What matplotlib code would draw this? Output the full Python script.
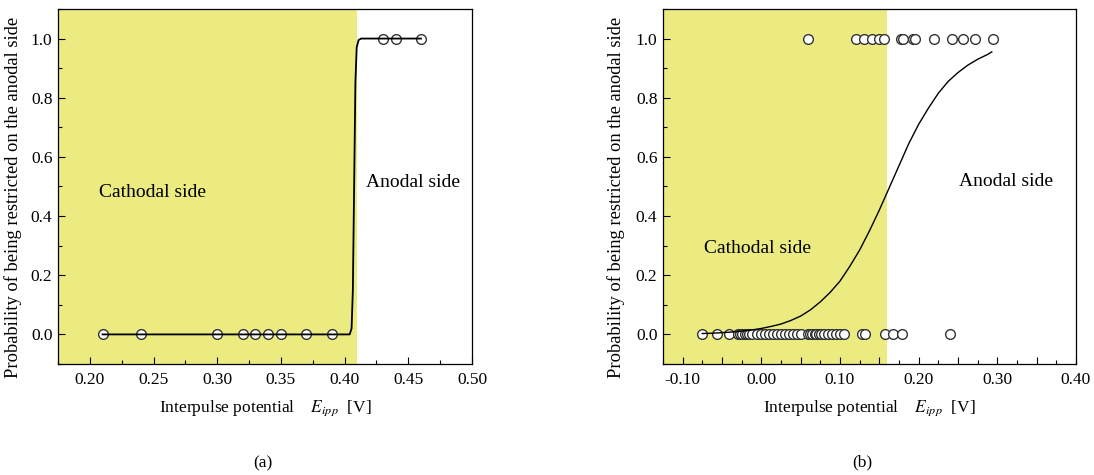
import numpy as np
import matplotlib
matplotlib.use('Agg')
import matplotlib.pyplot as plt
from matplotlib.ticker import MultipleLocator, FuncFormatter

plt.rcParams['font.family'] = ['Liberation Serif', 'DejaVu Serif']
plt.rcParams['mathtext.fontset'] = 'stix'

# ------------------------------------------------------------------
# data
# ------------------------------------------------------------------
# panel (a)
a_x0 = [0.21, 0.24, 0.30, 0.32, 0.33, 0.34, 0.35, 0.37, 0.39]
a_x1 = [0.43, 0.44, 0.46]
a_fit_x = [0.21, 0.30, 0.404, 0.4055, 0.4065, 0.4075, 0.4085, 0.4095, 0.411, 0.413, 0.46]
a_fit_y = [0.0, 0.0, 0.0, 0.02, 0.15, 0.50, 0.85, 0.97, 0.995, 1.0, 1.0]
a_boundary = 0.41

# panel (b)
b_x0 = [-0.075, -0.056, -0.041,
        -0.030, -0.027, -0.024, -0.021, -0.018, -0.015, -0.012,
        -0.005, 0.000, 0.005, 0.010, 0.015,
        0.020, 0.025, 0.030, 0.035, 0.040, 0.045, 0.050,
        0.060, 0.062, 0.065, 0.068, 0.070, 0.073, 0.076,
        0.080, 0.085, 0.090, 0.095, 0.100, 0.105,
        0.128, 0.132, 0.157, 0.168, 0.179, 0.240]
b_x1 = [0.059, 0.120, 0.131, 0.141, 0.150, 0.156, 0.177, 0.180,
        0.193, 0.196, 0.220, 0.242, 0.257, 0.272, 0.294]
b_fit_x = [-0.075, -0.0625, -0.05, -0.0375, -0.025, -0.0125, 0.0, 0.0125, 0.025,
           0.0375, 0.05, 0.0625, 0.075, 0.0875, 0.10, 0.1125, 0.125, 0.1375,
           0.15, 0.1625, 0.175, 0.1875, 0.20, 0.2125, 0.225, 0.2375, 0.25,
           0.2625, 0.275, 0.2875, 0.293]
b_fit_y = [0.003, 0.004, 0.006, 0.008, 0.011, 0.015, 0.020, 0.027, 0.035,
           0.047, 0.062, 0.083, 0.110, 0.142, 0.180, 0.230, 0.285, 0.350,
           0.420, 0.495, 0.570, 0.645, 0.710, 0.765, 0.815, 0.855, 0.885,
           0.910, 0.930, 0.946, 0.955]
b_boundary = 0.16

ylabel = 'Probability of being restricted on the anodal side'
xlabel = 'Interpulse potential    $E_{ipp}$  [V]'

shade = '#ebeb82'
fs = 12.5

fig = plt.figure(figsize=(10.94, 4.75), dpi=100)
ax_a = fig.add_axes([0.053, 0.2337, 0.3784, 0.7474])
ax_b = fig.add_axes([0.606, 0.2337, 0.3775, 0.7474])


def style_axes(ax, xlim, xmajor, xminor, xfmt):
    ax.set_xlim(*xlim)
    ax.set_ylim(-0.1, 1.1)
    ax.xaxis.set_major_locator(MultipleLocator(xmajor))
    ax.xaxis.set_minor_locator(MultipleLocator(xminor))
    ax.yaxis.set_major_locator(MultipleLocator(0.2))
    ax.yaxis.set_minor_locator(MultipleLocator(0.1))
    ax.xaxis.set_major_formatter(FuncFormatter(xfmt))
    ax.yaxis.set_major_formatter(FuncFormatter(lambda v, p: f'{v:.1f}'))
    ax.tick_params(which='both', direction='in', top=False, right=False,
                   labelsize=fs, width=0.8)
    ax.tick_params(which='major', length=5)
    ax.tick_params(which='minor', length=3)
    ax.tick_params(axis='x', pad=6)
    ax.tick_params(axis='y', pad=4)
    for s in ax.spines.values():
        s.set_linewidth(0.9)
    ax.set_ylabel(ylabel, fontsize=13.3)
    ax.set_xlabel(xlabel, fontsize=fs)
    ax.xaxis.set_label_coords(0.5, -0.124)
    ax.xaxis.label.set_va('center')


# panel (a)
ax = ax_a
ax.axvspan(-1, a_boundary, color=shade, lw=0, zorder=0)
ax.plot(a_x0, np.zeros(len(a_x0)), 'o', ms=7, mfc='white', mec='#333333', mew=1.0, zorder=2)
ax.plot(a_x1, np.ones(len(a_x1)), 'o', ms=7, mfc='white', mec='#333333', mew=1.0, zorder=2)
ax.plot(a_fit_x, a_fit_y, color='black', lw=1.3, zorder=3)
ax.text(0.249, 0.478, 'Cathodal side', fontsize=14, ha='center', va='center')
ax.text(0.454, 0.512, 'Anodal side', fontsize=14, ha='center', va='center')
style_axes(ax, (0.175, 0.50), 0.05, 0.025, lambda v, p: f'{v:.2f}')
ax.yaxis.set_label_coords(-0.087, 0.47)

# panel (b)
ax = ax_b
ax.axvspan(-1, b_boundary, color=shade, lw=0, zorder=0)
ax.plot(b_x0, np.zeros(len(b_x0)), 'o', ms=7, mfc='white', mec='#333333', mew=1.0, zorder=2)
ax.plot(b_x1, np.ones(len(b_x1)), 'o', ms=7, mfc='white', mec='#333333', mew=1.0, zorder=2)
ax.plot(b_fit_x, b_fit_y, color='black', lw=1.0, zorder=3)
ax.text(-0.005, 0.29, 'Cathodal side', fontsize=14, ha='center', va='center')
ax.text(0.311, 0.518, 'Anodal side', fontsize=14, ha='center', va='center')


def fmt_b(v, p):
    if abs(round(v / 0.1) * 0.1 - v) < 1e-6:
        return f'{v:.2f}'
    return ''


style_axes(ax, (-0.125, 0.40), 0.05, 0.025, fmt_b)
ax.yaxis.set_label_coords(-0.092, 0.47)

fig.text(0.2404, 0.025, '(a)', fontsize=fs, ha='center', va='center')
fig.text(0.788, 0.027, '(b)', fontsize=fs, ha='center', va='center')

fig.savefig('out.png', dpi=100)
